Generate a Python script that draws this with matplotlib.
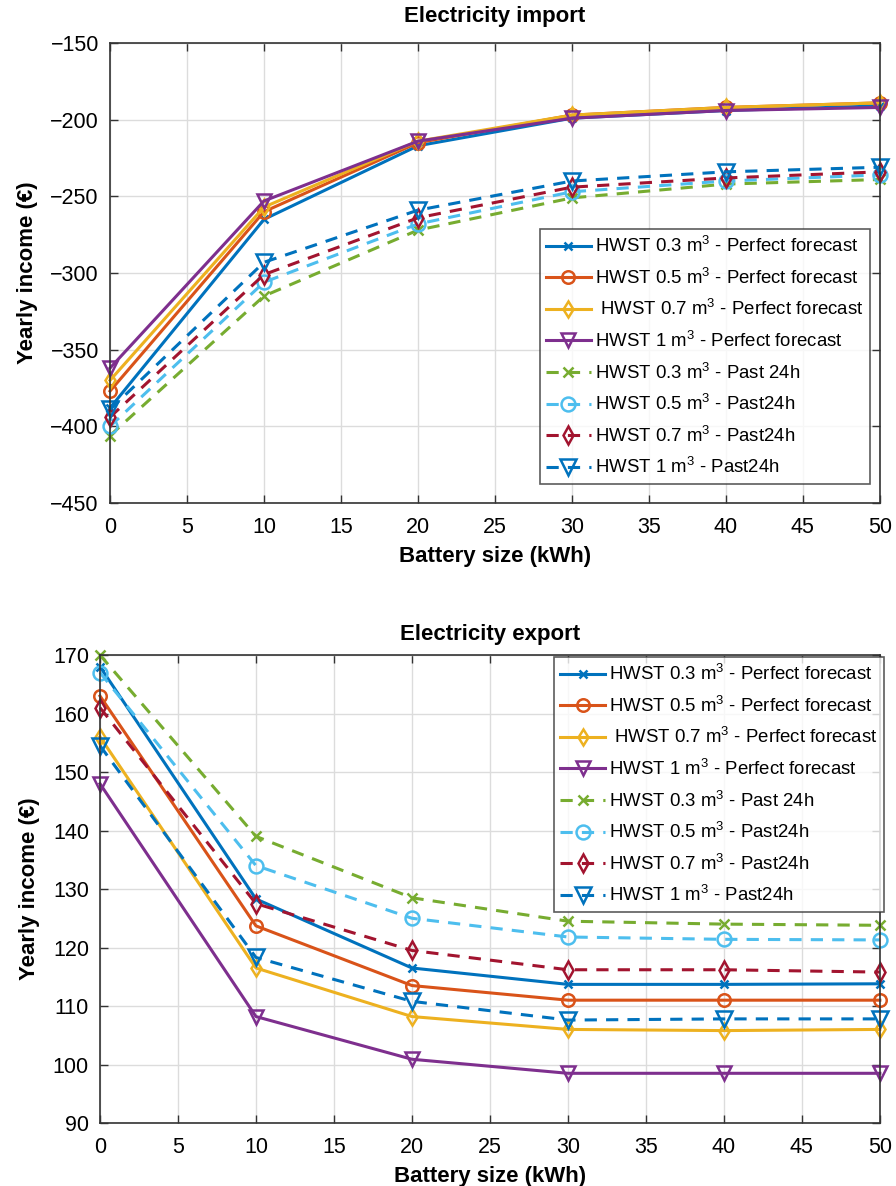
import matplotlib.pyplot as plt

battery = [0, 10, 20, 30, 40, 50]

# Electricity import (yearly income, EUR)
imp_pf_03 = [-388, -265, -217, -199, -194, -191]
imp_pf_05 = [-377, -260, -215, -197, -192, -189]
imp_pf_07 = [-370, -257, -214, -197, -192, -189]
imp_pf_1 = [-362, -253, -214, -199, -194, -192]
imp_p24_03 = [-406, -315, -272, -251, -242, -239]
imp_p24_05 = [-400, -306, -268, -247, -240, -236]
imp_p24_07 = [-394, -301, -264, -244, -238, -234]
imp_p24_1 = [-389, -293, -259, -240, -234, -231]

# Electricity export (yearly income, EUR)
exp_pf_03 = [168, 128.3, 116.5, 113.7, 113.7, 113.8]
exp_pf_05 = [163, 123.7, 113.5, 111, 111, 111]
exp_pf_07 = [156, 116.5, 108.2, 106, 105.8, 106]
exp_pf_1 = [148, 108.2, 100.9, 98.5, 98.5, 98.5]
exp_p24_03 = [170, 139, 128.5, 124.5, 124, 123.8]
exp_p24_05 = [167, 134, 125, 121.8, 121.4, 121.3]
exp_p24_07 = [161, 127.5, 119.5, 116.2, 116.2, 115.8]
exp_p24_1 = [154.5, 118.3, 110.8, 107.6, 107.8, 107.8]

labels = ["HWST 0.3 m$^3$ - Perfect forecast",
          "HWST 0.5 m$^3$ - Perfect forecast",
          " HWST 0.7 m$^3$ - Perfect forecast",
          "HWST 1 m$^3$ - Perfect forecast",
          "HWST 0.3 m$^3$ - Past 24h",
          "HWST 0.5 m$^3$ - Past24h",
          "HWST 0.7 m$^3$ - Past24h",
          "HWST 1 m$^3$ - Past24h"]
colors = ['#0072BD', '#D95319', '#EDB120', '#7E2F8E',
          '#77AC30', '#4DBEEE', '#A2142F', '#0072BD']
markers = ['x', 'o', 'd', 'v', 'x', 'o', 'd', 'v']
styles = ['-', '-', '-', '-', '--', '--', '--', '--']
msizes = [6, 9, 8, 10, 7, 10, 9, 11]

plt.rcParams['font.family'] = 'Liberation Sans'
plt.rcParams['mathtext.fontset'] = 'custom'
plt.rcParams['mathtext.rm'] = 'Liberation Sans'

fig = plt.figure(figsize=(8.96, 11.86), dpi=100)
ax1 = fig.add_axes([0.1228, 0.5759, 0.8592, 0.3878])
ax2 = fig.add_axes([0.1116, 0.0531, 0.8704, 0.3946])


def draw(ax, series, title, ylim, yticks, legend_box, tpad):
    for s, c, m, ls, ms, lab in zip(series, colors, markers, styles, msizes, labels):
        ax.plot(battery, s, color=c, marker=m, linestyle=ls, markersize=ms,
                markerfacecolor='none', markeredgewidth=1.8, linewidth=2.2,
                label=lab, clip_on=False, dashes=(4, 3) if ls == '--' else (None, None))
    ax.set_xlim(0, 50)
    ax.set_ylim(*ylim)
    ax.set_xticks(range(0, 51, 5))
    ax.set_yticks(yticks)
    ax.set_yticklabels([str(t).replace('-', '\u2212') for t in yticks])
    ax.grid(True, color='#dcdcdc', linewidth=1)
    ax.set_axisbelow(True)
    ax.tick_params(direction='in', top=True, right=True, labelsize=15.5,
                   length=6, width=1, color='#333333')
    ax.tick_params(axis='x', pad=10)
    ax.tick_params(axis='y', pad=8)
    for sp in ax.spines.values():
        sp.set_linewidth(1.2)
        sp.set_color('#333333')
    ax.set_title(title, fontsize=16, fontweight='bold', pad=tpad)
    ax.set_xlabel('Battery size (kWh)', fontsize=16, fontweight='bold', labelpad=6)
    ax.set_ylabel('Yearly income (\u20ac)', fontsize=16, fontweight='bold', labelpad=9)
    leg = ax.legend(loc='upper left', bbox_to_anchor=legend_box, fontsize=13.4,
                    frameon=True, fancybox=False, edgecolor='#333333',
                    handlelength=2.4, handletextpad=0.2, labelspacing=0.58,
                    borderpad=0.35, borderaxespad=0)
    leg.get_frame().set_linewidth(1.2)


draw(ax1, [imp_pf_03, imp_pf_05, imp_pf_07, imp_pf_1,
           imp_p24_03, imp_p24_05, imp_p24_07, imp_p24_1],
     'Electricity import', (-450, -150), list(range(-450, -149, 50)),
     (0.558, 0.596), 15)
draw(ax2, [exp_pf_03, exp_pf_05, exp_pf_07, exp_pf_1,
           exp_p24_03, exp_p24_05, exp_p24_07, exp_p24_1],
     'Electricity export', (90, 170), list(range(90, 171, 10)),
     (0.582, 0.996), 11)

fig.savefig('out.png', dpi=100)
